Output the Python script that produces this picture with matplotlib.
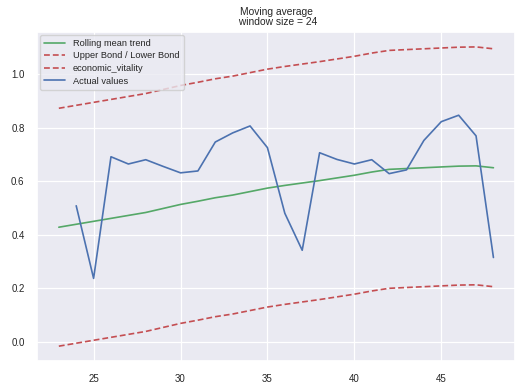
import numpy as np
import matplotlib
matplotlib.use("Agg")
import matplotlib.pyplot as plt
import seaborn as sns

sns.set_theme(style="darkgrid")
plt.rcParams['font.family'] = ['Liberation Sans', 'DejaVu Sans']

window = 24

# Rolling mean of economic_vitality (index 23..48)
mean_index = list(range(23, 49))
rolling_mean = [0.428, 0.439, 0.450, 0.461, 0.472, 0.483, 0.498, 0.513,
                0.525, 0.538, 0.548, 0.561, 0.574, 0.584, 0.593, 0.602,
                0.612, 0.622, 0.634, 0.644, 0.647, 0.650, 0.653, 0.656,
                0.657, 0.650]

# Half-width of the confidence band around the rolling mean
band_halfwidth = 0.444

# Observed values (index 24..48)
actual_index = list(range(24, 49))
actual_values = [0.508, 0.237, 0.691, 0.664, 0.680, 0.655, 0.631, 0.638,
                 0.746, 0.780, 0.806, 0.725, 0.480, 0.342, 0.706, 0.681,
                 0.664, 0.680, 0.628, 0.642, 0.752, 0.822, 0.846, 0.769,
                 0.315]

rm = np.array(rolling_mean)
upper_bond = rm + band_halfwidth
lower_bond = rm - band_halfwidth

fig = plt.figure(figsize=(5.30, 3.85), dpi=100)
ax = fig.add_axes([0.070, 0.062, 0.902, 0.855])

lw = 1.2
ax.plot(mean_index, rolling_mean, color="#55a868", lw=lw, label="Rolling mean trend")
ax.plot(mean_index, upper_bond, color="#c44e52", ls=(0, (3.5, 1.8)), lw=lw,
        label="Upper Bond / Lower Bond")
ax.plot(mean_index, lower_bond, color="#c44e52", ls=(0, (3.5, 1.8)), lw=lw,
        label="economic_vitality")
ax.plot(actual_index, actual_values, color="#4c72b0", lw=lw, label="Actual values")

ax.set_title("Moving average\n window size = {}".format(window), fontsize=7.4,
             color="#262626", pad=5, linespacing=1.05)
ax.tick_params(axis="both", labelsize=7.0, colors="#262626", pad=3)
ax.set_xticks([25, 30, 35, 40, 45])
ax.set_yticks([0.0, 0.2, 0.4, 0.6, 0.8, 1.0])
ax.grid(True, color="white", lw=0.9)

ax.legend(loc="upper left", fontsize=6.7, handlelength=2.3, borderpad=0.45,
          labelspacing=0.38, handletextpad=0.8, borderaxespad=0.3)

fig.savefig("out.png", dpi=100)
